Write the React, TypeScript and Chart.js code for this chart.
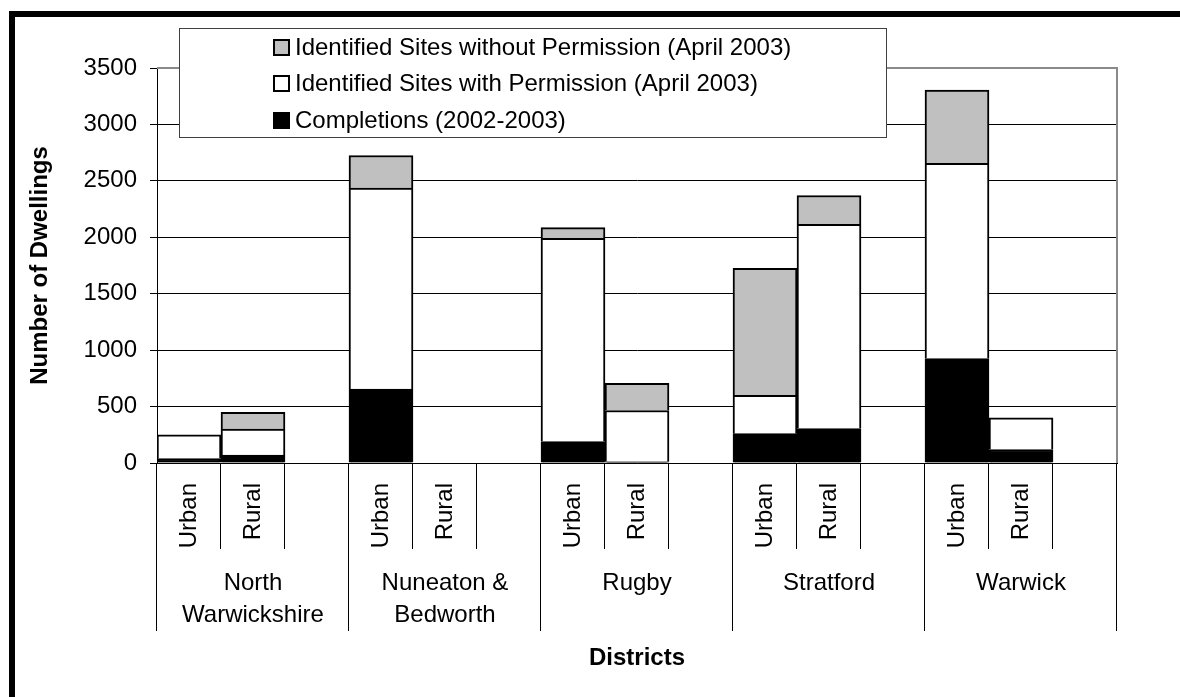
import React, { useEffect, useRef } from 'react';
import { Chart, registerables } from 'chart.js';

Chart.register(...registerables);

// ---------- data ----------
const subCategories = [
  'Urban', 'Rural', '',
  'Urban', 'Rural', '',
  'Urban', 'Rural', '',
  'Urban', 'Rural', '',
  'Urban', 'Rural', '',
];
const districts: (string | string[])[] = [
  ['North', 'Warwickshire'],
  ['Nuneaton &', 'Bedworth'],
  'Rugby',
  'Stratford',
  'Warwick',
];
const completions = [40, 70, null, 655, 0, null, 190, 10, null, 260, 305, null, 925, 120, null];
const withPermission = [210, 230, null, 1780, 0, null, 1800, 455, null, 340, 1810, null, 1730, 280, null];
const withoutPermission = [0, 150, null, 290, 0, null, 95, 240, null, 1125, 255, null, 650, 0, null];
const seriesNames = [
  'Completions (2002-2003)',
  'Identified Sites with Permission (April 2003)',
  'Identified Sites without Permission (April 2003)',
];
const yTicks = { min: 0, max: 3500, step: 500 };
const yTitle = 'Number of Dwellings';
const xTitle = 'Districts';

// ---------- styles ----------
const FONT = 'Liberation Sans, Arial, Helvetica, sans-serif';
const GREY = '#C0C0C0';

const legendPlugin = {
  id: 'boxLegend',
  afterDraw(chart: any, _args: any, opts: any) {
    const { ctx } = chart;
    ctx.save();
    ctx.fillStyle = '#ffffff';
    ctx.fillRect(opts.x, opts.y, opts.w, opts.h);
    ctx.strokeStyle = opts.borderColor;
    ctx.lineWidth = 1;
    ctx.strokeRect(opts.x + 0.5, opts.y + 0.5, opts.w, opts.h);
    const items = chart.data.datasets.slice().reverse();
    ctx.font = `${opts.fontSize}px ${FONT}`;
    ctx.textBaseline = 'middle';
    ctx.textAlign = 'left';
    items.forEach((ds: any, i: number) => {
      const cy = opts.y + opts.firstRow + i * opts.rowGap;
      const sx = opts.markerX;
      const sy = Math.round(cy - opts.marker / 2);
      ctx.fillStyle = ds.backgroundColor;
      ctx.fillRect(sx, sy, opts.marker, opts.marker);
      ctx.strokeStyle = '#000';
      ctx.lineWidth = 2;
      ctx.strokeRect(sx + 1, sy + 1, opts.marker - 2, opts.marker - 2);
      ctx.fillStyle = '#000';
      ctx.fillText(ds.label, opts.textX, cy + 1);
    });
    ctx.restore();
  },
};

const dividerPlugin = {
  id: 'categoryDividers',
  afterDraw(chart: any, _args: any, opts: any) {
    const xs = chart.scales.x;
    const x2 = chart.scales.x2;
    const { ctx } = chart;
    const n = subCategories.length;
    const slot = (xs.right - xs.left) / n;
    ctx.save();
    ctx.strokeStyle = opts.color;
    ctx.lineWidth = 1;
    for (let i = 0; i <= n; i++) {
      const px = i < n ? xs.getPixelForValue(i) - slot / 2 : xs.getPixelForValue(n - 1) + slot / 2;
      const xx = Math.round(px) - 0.5;
      const long = i % 3 === 0;
      const bottom = long ? x2.top + opts.longDrop : xs.bottom;
      ctx.beginPath();
      ctx.moveTo(xx, xs.top);
      ctx.lineTo(xx, bottom);
      ctx.stroke();
    }
    ctx.restore();
  },
};

const framePlugin = {
  id: 'plotFrame',
  beforeDatasetsDraw(chart: any, _args: any, opts: any) {
    const { ctx, chartArea } = chart;
    ctx.save();
    ctx.strokeStyle = opts.color;
    ctx.lineWidth = 2;
    ctx.beginPath();
    ctx.moveTo(chartArea.left, chartArea.top);
    ctx.lineTo(chartArea.right, chartArea.top);
    ctx.lineTo(chartArea.right, chartArea.bottom);
    ctx.stroke();
    ctx.restore();
  },
};

export default function App() {
  const canvasRef = useRef<HTMLCanvasElement | null>(null);

  useEffect(() => {
    if (!canvasRef.current) return;
    const chart = new Chart(canvasRef.current, {
      type: 'bar',
      data: {
        labels: subCategories,
        datasets: [
          {
            label: seriesNames[0],
            data: completions,
            backgroundColor: '#000000',
            borderColor: '#000000',
            borderWidth: 2,
          },
          {
            label: seriesNames[1],
            data: withPermission,
            backgroundColor: '#ffffff',
            borderColor: '#000000',
            borderWidth: 2,
          },
          {
            label: seriesNames[2],
            data: withoutPermission,
            backgroundColor: GREY,
            borderColor: '#000000',
            borderWidth: 2,
          },
        ] as any,
      },
      options: {
        responsive: false,
        animation: false,
        devicePixelRatio: 1,
        layout: { padding: { top: 68, right: 63, bottom: 0, left: 0 } },
        datasets: {
          bar: { barPercentage: 1, categoryPercentage: 1 },
        },
        plugins: {
          legend: { display: false },
          tooltip: { enabled: false },
          boxLegend: {
            x: 179, y: 28, w: 707, h: 109,
            borderColor: '#404040',
            firstRow: 19, rowGap: 36.5,
            markerX: 273, marker: 17, textX: 295,
            fontSize: 24,
          },
          categoryDividers: { color: '#000', longDrop: 82 },
          plotFrame: { color: '#8a8a8a' },
        } as any,
        scales: {
          x: {
            type: 'category',
            stacked: true,
            position: 'bottom',
            weight: 0,
            offset: true,
            grid: { display: true, drawOnChartArea: false, drawTicks: false },
            border: { display: true, color: '#000', width: 1 },
            ticks: {
              autoSkip: false,
              minRotation: 90,
              maxRotation: 90,
              padding: 20,
              color: '#000',
              font: { family: FONT, size: 24 },
            },
            afterFit: (s: any) => { s.height = 86; },
          },
          x2: {
            type: 'category',
            position: 'bottom',
            weight: 1,
            offset: true,
            labels: districts as any,
            grid: { display: false, drawTicks: false },
            border: { display: false },
            ticks: {
              autoSkip: false,
              maxRotation: 0,
              minRotation: 0,
              padding: 18,
              color: '#000',
              font: { family: FONT, size: 24, lineHeight: 1.33 },
            },
            title: {
              display: true,
              text: xTitle,
              color: '#000',
              font: { family: FONT, size: 24, weight: 'bold' },
              padding: { top: 0, bottom: 24 },
            },
            afterFit: (s: any) => { s.height = 148; },
          },
          y: {
            stacked: true,
            min: yTicks.min,
            max: yTicks.max,
            grid: {
              color: (c: any) => (c.tick && c.tick.value === yTicks.max ? '#8a8a8a' : '#000'),
              lineWidth: 1,
              drawTicks: true,
              tickLength: 7,
              tickColor: '#000',
            },
            border: { display: true, color: '#000', width: 1 },
            ticks: {
              stepSize: yTicks.step,
              padding: 13,
              color: '#000',
              font: { family: FONT, size: 24 },
              callback: (v: any) => String(v),
            },
            title: {
              display: true,
              text: yTitle,
              color: '#000',
              font: { family: FONT, size: 24, weight: 'bold' },
              padding: { top: 26, bottom: 0 },
            },
            afterFit: (s: any) => { s.width = 157; },
          },
        } as any,
      },
      plugins: [framePlugin, dividerPlugin, legendPlugin],
    });
    return () => chart.destroy();
  }, []);

  return (
    <>
      <div style={{ position: 'fixed', left: 0, top: 0, width: 1180, height: 697, background: '#fff' }}>
        <canvas ref={canvasRef} width={1180} height={697} style={{ display: 'block' }} />
      </div>
      <div
        style={{
          position: 'fixed',
          left: 9,
          top: 11,
          width: 1300,
          height: 800,
          border: '6px solid #000',
          boxSizing: 'border-box',
          pointerEvents: 'none',
        }}
      />
    </>
  );
}
